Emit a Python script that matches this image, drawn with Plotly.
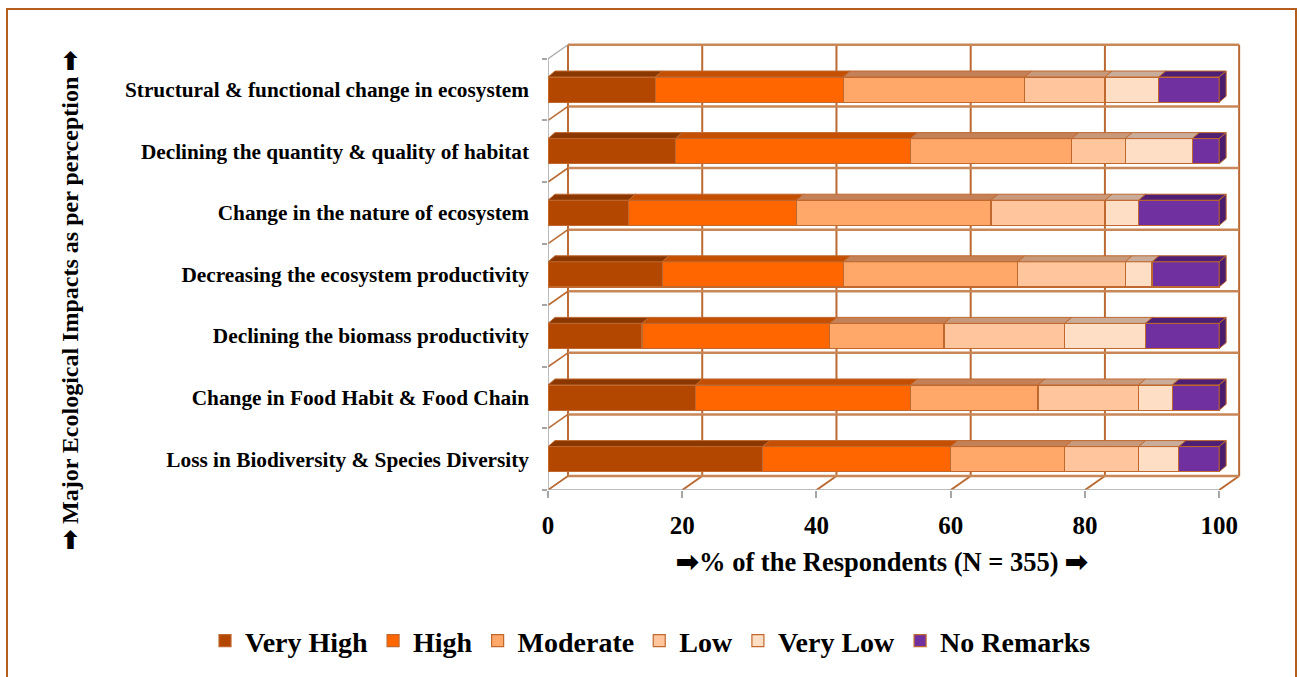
import plotly.graph_objects as go

# Impact categories, listed bottom to top as they stack on the y axis
categories = [
    "Loss in Biodiversity & Species Diversity",
    "Change in Food Habit & Food Chain",
    "Declining the biomass productivity",
    "Decreasing the ecosystem productivity",
    "Change in the nature of ecosystem",
    "Declining the quantity & quality of habitat",
    "Structural & functional change in ecosystem",
]

# Share of respondents (%) for each perception level
very_high = [32, 22, 14, 17, 12, 19, 16]
high = [28, 32, 28, 27, 25, 35, 28]
moderate = [17, 19, 17, 26, 29, 24, 27]
low = [11, 15, 18, 16, 17, 8, 12]
very_low = [6, 5, 12, 4, 5, 10, 8]
no_remarks = [6, 7, 11, 10, 12, 4, 9]

series_names = ["Very High", "High", "Moderate", "Low", "Very Low", "No Remarks"]
series_values = [very_high, high, moderate, low, very_low, no_remarks]
front_colors = ["#B34700", "#FF6600", "#FFA86A", "#FFC59C", "#FFDEC6", "#7030A0"]
top_colors = ["#8A3700", "#C44F00", "#C48157", "#C8987A", "#C9AD9A", "#4E1F75"]

x_ticks = [0, 20, 40, 60, 80, 100]

FONT = "Liberation Serif"
GRID = "#BA6A32"
AXIS_GRAY = "#A6A6A6"
OUTLINE = "#C0682E"
ARROW = "\u27A1"

# pseudo-3D geometry (axis units)
PX_PER_X = 698 / 104.0
PX_PER_Y = 447 / 7.26
DX = 20 / PX_PER_X          # depth of the back wall along x
DY = 14 / PX_PER_Y          # depth of the back wall along y
BAR_DX = 7 / PX_PER_X       # depth of each bar
BAR_DY = 6 / PX_PER_Y
HALF = 0.205                # half thickness of a bar

n_cat = len(categories)
ypos = list(range(n_cat))
y_lo, y_hi = -0.5, n_cat - 0.5

fig = go.Figure()

# front faces of the stacked bars
for name, vals, col in zip(series_names, series_values, front_colors):
    fig.add_trace(go.Bar(
        y=ypos, x=vals, name=name, orientation="h",
        width=2 * HALF,
        marker=dict(color=col, line=dict(color=OUTLINE, width=1.2)),
        hoverinfo="skip",
    ))

# top faces of each stacked segment
starts = [0] * n_cat
for idx, (vals, tcol) in enumerate(zip(series_values, top_colors)):
    xs, ys = [], []
    for i in range(n_cat):
        x0 = starts[i]
        x1 = x0 + vals[i]
        yt = ypos[i] + HALF
        xs += [x0, x1, x1 + BAR_DX, x0 + BAR_DX, x0, None]
        ys += [yt, yt, yt + BAR_DY, yt + BAR_DY, yt, None]
        starts[i] = x1
    fig.add_trace(go.Scatter(
        x=xs, y=ys, mode="lines", fill="toself", fillcolor=tcol,
        line=dict(color=OUTLINE, width=1), showlegend=False, hoverinfo="skip",
    ))

# right-hand end faces of the last segment
xs, ys = [], []
for i in range(n_cat):
    xe = starts[i]
    yb, yt = ypos[i] - HALF, ypos[i] + HALF
    xs += [xe, xe, xe + BAR_DX, xe + BAR_DX, xe, None]
    ys += [yb, yt, yt + BAR_DY, yb + BAR_DY, yb, None]
fig.add_trace(go.Scatter(
    x=xs, y=ys, mode="lines", fill="toself", fillcolor="#4A1D6E",
    line=dict(color=OUTLINE, width=1), showlegend=False, hoverinfo="skip",
))

# chart walls: back-wall grid, floor and side lines
shapes = []
def seg(x0, y0, x1, y1, color, width):
    shapes.append(dict(type="line", xref="x", yref="y", x0=x0, y0=y0, x1=x1, y1=y1,
                       line=dict(color=color, width=width), layer="below"))

for t in x_ticks:
    seg(t + DX, y_lo + DY, t + DX, y_hi + DY, GRID, 2)
    seg(t, y_lo, t + DX, y_lo + DY, GRID if t > 0 else AXIS_GRAY, 2 if t > 0 else 1.2)
boundaries = [b - 0.5 for b in range(n_cat + 1)]
for b in boundaries:
    seg(DX, b + DY, x_ticks[-1] + DX, b + DY, "#C98657", 2.5)
    if b < y_hi:
        seg(0, b, DX, b + DY, GRID, 1.6)
    else:
        seg(0, b, DX, b + DY, AXIS_GRAY, 1.2)
seg(0, y_lo, 0, y_hi, AXIS_GRAY, 1.5)
seg(0, y_lo, x_ticks[-1], y_lo, AXIS_GRAY, 1.5)

# outer frame of the figure
L, R, T, B = 548, 54, 43, 187
pw, ph = 1300 - L - R, 677 - T - B
def px_x(p):
    return (p - L) / pw
def px_y(p):
    return (677 - B - p) / ph
shapes.append(dict(type="rect", xref="paper", yref="paper",
                   x0=px_x(7), x1=px_x(1296), y0=px_y(9), y1=px_y(700),
                   line=dict(color="#B35E1F", width=2), layer="below"))

fig.update_layout(
    width=1300, height=677,
    margin=dict(l=L, r=R, t=T, b=B, autoexpand=False),
    paper_bgcolor="white", plot_bgcolor="white",
    barmode="stack", bargap=0.5,
    shapes=shapes,
    showlegend=True,
    legend=dict(
        orientation="h", traceorder="normal",
        xref="paper", yref="paper",
        x=px_x(205), y=px_y(641), xanchor="left", yanchor="middle",
        font=dict(family=FONT, size=28, color="black", weight="bold"),
        itemwidth=30,
    ),
    xaxis=dict(
        range=[0, 104], tickvals=x_ticks, showgrid=False, zeroline=False,
        showline=False, ticks="outside", ticklen=7, tickcolor=AXIS_GRAY, tickwidth=1.5,
        tickfont=dict(family=FONT, size=25, color="black", weight="bold"),
        ticklabelstandoff=6,
    ),
    yaxis=dict(
        range=[y_lo, y_hi + DY + 0.03], tickvals=ypos, ticktext=categories,
        showgrid=False, zeroline=False, showline=False, ticks="",
        minor=dict(tickvals=boundaries, ticks="outside", ticklen=5,
                   tickcolor=AXIS_GRAY, tickwidth=1.5, showgrid=False),
        tickfont=dict(family=FONT, size=21.3, color="black", weight="bold"),
        ticklabelstandoff=18,
    ),
    annotations=[
        dict(text=ARROW + "% of the Respondents (N = 355) " + ARROW,
             xref="paper", yref="paper", x=px_x(882), y=px_y(562),
             xanchor="center", yanchor="middle", showarrow=False,
             font=dict(family=FONT, size=26.5, color="black", weight="bold")),
        dict(text=ARROW + " Major Ecological Impacts as per perception " + ARROW,
             xref="paper", yref="paper", x=px_x(70), y=px_y(300),
             xanchor="center", yanchor="middle", showarrow=False, textangle=-90,
             font=dict(family=FONT, size=24, color="black", weight="bold")),
    ],
)

fig.write_html("out.html")
